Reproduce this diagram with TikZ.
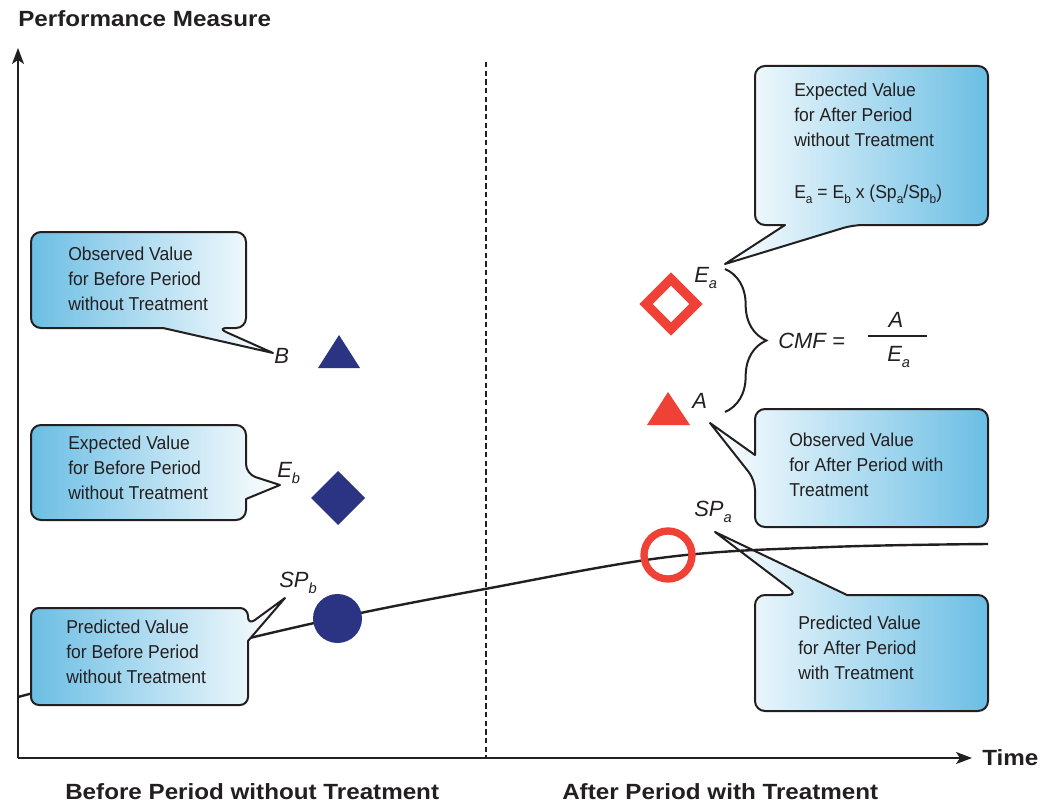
\documentclass[tikz,border=0pt]{standalone}
\usepackage{fontspec}
\setmainfont{Liberation Sans}
\newfontfamily\bodyfont{Liberation Sans}[FakeStretch=0.94]
\newfontfamily\titlefont{Liberation Sans}[FakeStretch=1.1]
\usetikzlibrary{arrows.meta,decorations.pathreplacing}
\definecolor{ink}{RGB}{35,31,32}
\definecolor{navy}{RGB}{43,52,131}
\definecolor{mred}{RGB}{239,65,54}
\definecolor{cblue}{RGB}{107,190,228}
\newcommand\lsub[1]{\raisebox{-5pt}{\fontsize{11}{11}\selectfont #1}}
\newcommand\fsub[1]{\raisebox{-3.5pt}{\fontsize{9.5}{9.5}\selectfont #1}}
\begin{document}
\begin{tikzpicture}[x=0.75pt,y=-0.75pt,
  callout/.style={draw=ink,line width=1.5pt,line join=round},
  body/.style={font=\bodyfont\fontsize{14}{18.75}\selectfont, text=ink, align=left, anchor=north west, inner sep=0pt},
  lab/.style={font=\fontsize{16.5}{16.5}\selectfont\itshape, text=ink, anchor=base west, inner sep=0pt},
  title/.style={font=\titlefont\fontsize{16.5}{16.5}\selectfont\bfseries, text=ink, inner sep=0pt, anchor=base west},
  axis/.style={draw=ink, line width=1.1pt, -{Stealth[length=12pt,width=9pt,inset=3pt]}}]
\useasboundingbox (0,0) rectangle (1042,806);

% axes
\coordinate (O) at (18,758);
\coordinate (Ytop) at (18,48);
\coordinate (Xend) at (972,758);
\draw[axis] (O) -- (Ytop);
\draw[axis] (O) -- (Xend);
\coordinate (D1) at (486,62);
\coordinate (D2) at (486,758);
\draw[ink, line width=0.8pt, dash pattern=on 4pt off 2.5pt] (D1) -- (D2);

% box 6 (predicted after)
\draw[callout, left color=white, right color=cblue]
  (870,595) [rounded corners=7.5pt] -- (988,595) -- (988,711) -- (755,711) -- (755,595) -- (798,595) [sharp corners] -- (715,532) -- (847,595) [rounded corners=7.5pt] -- cycle;

% curve
\draw[ink, line width=1.8pt] plot[smooth, tension=0.6] coordinates {(18,697) (180,655) (337,618) (485,589) (668,557) (830,547) (988,544)};

% box 1 (observed before)
\draw[callout, left color=cblue, right color=white]
  (140,232) [rounded corners=7.5pt] -- (246,232) -- (246,328) -- (217,328) [sharp corners] -- (273,353) -- (163,328) [rounded corners=7.5pt] -- (31,328) -- (31,232) -- cycle;
% box 2 (expected before)
\draw[callout, left color=cblue, right color=white]
  (140,425) [rounded corners=7.5pt] -- (246,425) -- (246,474) [sharp corners] -- (280,485) -- (246,499) [rounded corners=7.5pt] -- (246,520) -- (31,520) -- (31,425) -- cycle;
% box 3 (predicted before)
\draw[callout, left color=cblue, right color=white]
  (140,608) [rounded corners=6pt] -- (248,608) -- (248,625) [sharp corners] -- (285,598) -- (248,641) [rounded corners=6pt] -- (248,705) -- (31,705) -- (31,608) -- cycle;
% box 4 (expected after)
\draw[callout, left color=white, right color=cblue]
  (870,66) [rounded corners=7.5pt] -- (988,66) -- (988,225) -- (853,225) [sharp corners] -- (725,264) -- (785,225) [rounded corners=7.5pt] -- (755,225) -- (755,66) -- cycle;
% box 5 (observed after)
\draw[callout, left color=white, right color=cblue]
  (870,409) [rounded corners=7.5pt] -- (988,409) -- (988,527) -- (755,527) -- (755,480) [sharp corners] -- (710,423) -- (755,455) [rounded corners=7.5pt] -- (755,409) -- cycle;

% box texts
\node[body] (t1) at (68,246.5) {Observed Value\\for Before Period\\without Treatment};
\node[body] (t2) at (68,435.5) {Expected Value\\for Before Period\\without Treatment};
\node[body] (t3) at (66,619.5) {Predicted Value\\for Before Period\\without Treatment};
\node[body] (t4) at (794,82.5) {Expected Value\\for After Period\\without Treatment};
\node[font=\bodyfont\fontsize{14}{18.75}\selectfont, text=ink, anchor=base west, inner sep=0pt] (t4f) at (794,199) {E\fsub{a} = E\fsub{b} x (Sp\fsub{a}/Sp\fsub{b})};
\node[body] (t5) at (789,432.5) {Observed Value\\for After Period with\\Treatment};
\node[body] (t6) at (798,615.5) {Predicted Value\\for After Period\\with Treatment};

% markers
\fill[navy] (318,368) -- (360,368) -- (339,335) -- cycle;
\fill[navy] (338,471) -- (365,498) -- (338,525) -- (311,498) -- cycle;
\fill[navy] (337.5,618.5) circle[radius=24.5];
\draw[mred, line width=7pt] (671,279) -- (696,304) -- (671,329) -- (646,304) -- cycle;
\fill[mred] (647,425) -- (690,425) -- (668,392) -- cycle;
\draw[mred, line width=5.5pt] (668,555) circle[radius=24];

% labels
\node[lab] (lB) at (274,363) {B};
\node[lab] (lEb) at (277,477) {E\lsub{b}};
\node[lab] (lSPb) at (279,587) {SP\lsub{b}};
\node[lab] (lEa) at (694,282) {E\lsub{a}};
\node[lab] (lA) at (692,408) {A};
\node[lab] (lSPa) at (694,516) {SP\lsub{a}};

% brace and CMF
\coordinate (Bt) at (725,269);
\coordinate (Bb) at (725,412);
\draw[ink, line width=1.5pt, decorate, decoration={brace, amplitude=31pt}] (Bt) -- (Bb);
\node[lab, font=\fontsize{16.5}{16.5}\selectfont\itshape] (cmf) at (778,348) {CMF =};
\coordinate (F1) at (868,336);
\coordinate (F2) at (927,336);
\draw[ink, line width=1.3pt] (F1) -- (F2);
\node[lab, anchor=base] (num) at (896,327) {A};
\node[lab] (den) at (887,361) {E\lsub{a}};

% titles
\node[title] (ttl) at (18,27) {Performance Measure};
\node[title] (time) at (982,765) {Time};
\node[title] (bef) at (65,799) {Before Period without Treatment};
\node[title] (aft) at (562,799) {After Period with Treatment};
\end{tikzpicture}
\end{document}
